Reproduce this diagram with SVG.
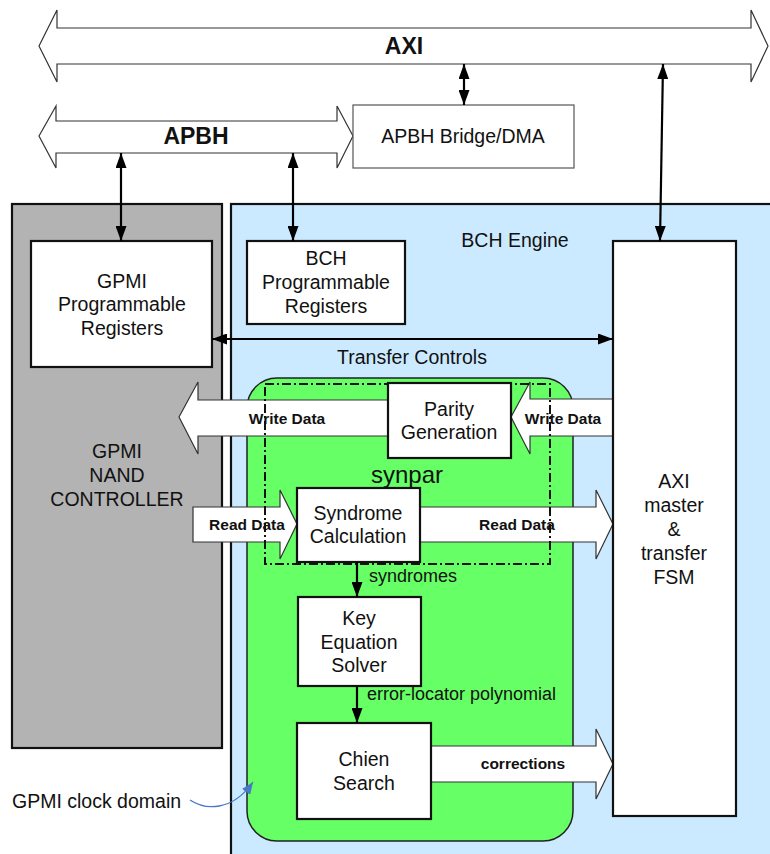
<svg xmlns="http://www.w3.org/2000/svg" width="770" height="854" viewBox="0 0 770 854">
<defs>
<style>
text{font-family:"Liberation Sans",Arial,sans-serif;fill:#111}
.box{fill:#fff;stroke:#111;stroke-width:2.2}
.t{font-size:19.5px;text-anchor:middle}
.lbl{font-size:18px}
.b{font-size:15.5px;font-weight:bold;text-anchor:middle}
.big{font-size:23px;font-weight:bold;text-anchor:middle}
.fat{fill:#fff;stroke:#333;stroke-width:1.2}
.ln{fill:none;stroke:#000;stroke-width:2.2}
</style>
<marker id="ah" viewBox="0 0 15 11" refX="15" refY="5.5" markerWidth="15" markerHeight="11" markerUnits="userSpaceOnUse" orient="auto-start-reverse"><path d="M0,0 L15,5.5 L0,11 z" fill="#000"/></marker>
<marker id="ahb" viewBox="0 0 12 10" refX="12" refY="5" markerWidth="12" markerHeight="10" markerUnits="userSpaceOnUse" orient="auto"><path d="M0,0 L12,5 L0,10 z" fill="#4a78c8"/></marker>
</defs>
<rect width="770" height="854" fill="#fff"/>

<g id="axi-bus">
<polygon class="fat" points="39,46 57,10 57,28 751,28 751,10 768,46 751,82 751,64 57,64 57,82"/>
<text class="big" x="404" y="54">AXI</text>
</g>
<g id="apbh-bus">
<polygon class="fat" points="39,136 56,106 56,121 337,121 337,106 353,136 337,168 337,153 56,153 56,168"/>
<text class="big" x="196" y="144">APBH</text>
</g>
<g id="apbh-bridge">
<rect x="353" y="105" width="221" height="63" fill="#fff" stroke="#555" stroke-width="1.2"/>
<text class="t" x="463" y="143">APBH Bridge/DMA</text>
</g>

<g id="gpmi-controller">
<rect x="12" y="204" width="210" height="544" fill="#b3b3b3" stroke="#111" stroke-width="2.2"/>
<text class="t" x="117" y="458">GPMI</text>
<text class="t" x="117" y="482">NAND</text>
<text class="t" x="117" y="506">CONTROLLER</text>
</g>
<g id="bch-engine">
<rect x="231" y="204" width="560" height="670" fill="#cceaff" stroke="#111" stroke-width="2.2"/>
<text class="t" x="515" y="247">BCH Engine</text>
<text class="t" x="412" y="364">Transfer Controls</text>
</g>
<g id="gpmi-clock-domain">
<rect x="247" y="378" width="326" height="463" rx="30" ry="30" fill="#66ff66" stroke="#222" stroke-width="1.5"/>
</g>

<g id="data-arrows">
<polygon class="fat" points="179,417 198,382 198,400 388,400 388,436 198,436 198,454"/>
<polygon class="fat" points="511,417 530,382 530,399 613,399 613,436 530,436 530,454"/>
<polygon class="fat" points="193,507 280,507 280,490 297,524 280,559 280,542 193,542"/>
<polygon class="fat" points="420,507 596,507 596,490 613,524 596,559 596,542 420,542"/>
<polygon class="fat" points="431,746 596,746 596,729 613,764 596,799 596,782 431,782"/>
<text class="b" x="287" y="424">Write Data</text>
<text class="b" x="563" y="424">Write Data</text>
<text class="b" x="247" y="530">Read Data</text>
<text class="b" x="517" y="530">Read Data</text>
<text class="b" x="523" y="769">corrections</text>
</g>

<g id="synpar">
<rect x="265" y="384" width="285" height="180" fill="none" stroke="#111" stroke-width="2" stroke-dasharray="9 3 2 3"/>
<text x="407" y="483" style="font-size:24px;text-anchor:middle">synpar</text>
</g>

<g id="gpmi-registers">
<rect class="box" x="31" y="241" width="181" height="126"/>
<text class="t" x="122" y="288">GPMI</text>
<text class="t" x="122" y="311">Programmable</text>
<text class="t" x="122" y="335">Registers</text>
</g>
<g id="bch-registers">
<rect class="box" x="247" y="241" width="158" height="83"/>
<text class="t" x="326" y="265">BCH</text>
<text class="t" x="326" y="289">Programmable</text>
<text class="t" x="326" y="313">Registers</text>
</g>
<g id="axi-master">
<rect class="box" x="613" y="241" width="123" height="575"/>
<text class="t" x="674" y="488">AXI</text>
<text class="t" x="674" y="512">master</text>
<text class="t" x="674" y="536">&amp;</text>
<text class="t" x="674" y="560">transfer</text>
<text class="t" x="674" y="584">FSM</text>
</g>
<g id="parity-generation">
<rect class="box" x="388" y="383" width="123" height="75"/>
<text class="t" x="449" y="416">Parity</text>
<text class="t" x="449" y="439">Generation</text>
</g>
<g id="syndrome-calculation">
<rect class="box" x="297" y="488" width="123" height="74"/>
<text class="t" x="358" y="520">Syndrome</text>
<text class="t" x="358" y="543">Calculation</text>
</g>
<g id="key-equation-solver">
<rect class="box" x="298" y="597" width="123" height="89"/>
<text class="t" x="359" y="625">Key</text>
<text class="t" x="359" y="649">Equation</text>
<text class="t" x="359" y="672">Solver</text>
</g>
<g id="chien-search">
<rect class="box" x="297" y="723" width="134" height="96"/>
<text class="t" x="364" y="766">Chien</text>
<text class="t" x="364" y="790">Search</text>
</g>

<g id="connectors">
<line class="ln" x1="464" y1="64" x2="464" y2="105" marker-start="url(#ah)" marker-end="url(#ah)"/>
<line class="ln" x1="663" y1="64" x2="660" y2="241" marker-start="url(#ah)" marker-end="url(#ah)"/>
<line class="ln" x1="121" y1="153" x2="121" y2="241" marker-start="url(#ah)" marker-end="url(#ah)"/>
<line class="ln" x1="293" y1="153" x2="293" y2="241" marker-start="url(#ah)" marker-end="url(#ah)"/>
<line class="ln" x1="212" y1="339" x2="613" y2="339" marker-start="url(#ah)" marker-end="url(#ah)"/>
<line class="ln" x1="357" y1="562" x2="357" y2="597" marker-end="url(#ah)"/>
<line class="ln" x1="357" y1="686" x2="357" y2="723" marker-end="url(#ah)"/>
<path d="M190,800 C205,810 232,812 253,782" fill="none" stroke="#4a78c8" stroke-width="1.3" marker-end="url(#ahb)"/>
<text class="lbl" x="369" y="582">syndromes</text>
<text class="lbl" x="367" y="700">error-locator polynomial</text>
</g>
<text x="12" y="808" style="font-size:19.5px">GPMI clock domain</text>
</svg>
